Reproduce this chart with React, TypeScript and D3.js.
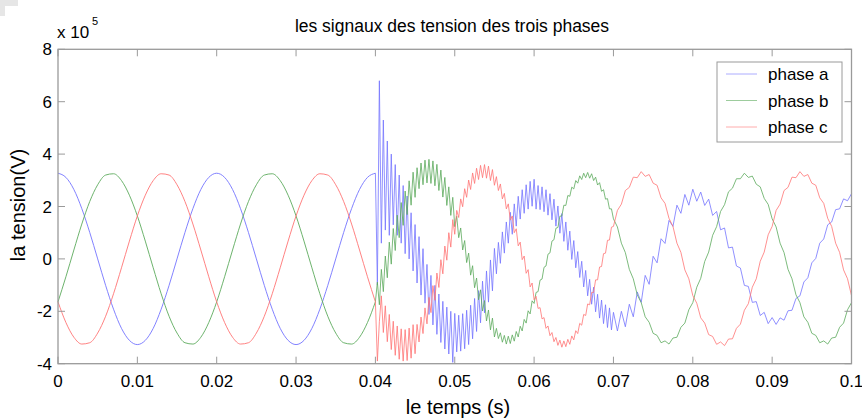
import React, { useEffect, useRef } from "react";
import * as d3 from "d3";

// sample times (s): 1 ms before the fault, 0.25 ms during it, 0.5 ms after 0.07 s
const preTimes = d3.range(40).map((k) => k * 0.001);
const faultTimes = d3.range(120).map((i) => 0.04 + i * 0.00025);
const lateTimes = d3.range(61).map((j) => 0.07 + j * 0.0005);

// voltages in units of 1e5 V
const phaseAPre = [3.27, 3.11, 2.65, 1.92, 1.01, 0, -1.01, -1.92, -2.65, -3.11, -3.27, -3.11, -2.65, -1.92, -1.01, 0, 1.01, 1.92, 2.65, 3.11,
  3.27, 3.11, 2.65, 1.92, 1.01, 0, -1.01, -1.92, -2.65, -3.11, -3.27, -3.11, -2.65, -1.92, -1.01, 0, 1.01, 1.92, 2.65, 3.11];
const phaseAFault = [3.27, -1.0, 6.8, 0.6, 5.3, 1.1, 4.5, 0.9, 4.0, 1.3,
  3.6, 0.9, 3.2, 0.6, 2.8, 0.2, 2.4, 0.0, 1.76, -0.46,
  1.31, -0.92, 0.85, -1.38, 0.39, -1.69, -0.21, -2.12, -0.63, -2.52,
  -1.01, -2.88, -1.34, -3.19, -1.62, -3.44, -1.84, -3.63, -2.0, -3.95,
  -2.08, -3.55, -2.15, -3.52, -2.09, -3.43, -1.96, -3.27, -1.77, -3.05,
  -1.51, -2.77, -1.21, -2.44, -0.85, -2.06, -0.46, -1.65, -0.04, -1.22,
  0.4, -0.57, 0.63, -0.17, 1.03, 0.22, 1.41, 0.6, 1.78, 0.94,
  2.1, 1.25, 2.39, 1.52, 2.64, 1.74, 2.83, 1.9, 2.96, 2.01,
  3.04, 1.9, 2.8, 1.88, 2.75, 1.8, 2.64, 1.67, 2.49, 1.49,
  2.28, 1.25, 2.02, 0.98, 1.73, 0.67, 1.41, 0.33, 1.06, -0.02,
  0.7, -0.34, 0.28, -0.71, -0.09, -1.07, -0.44, -1.41, -0.78, -1.73,
  -1.08, -2.02, -1.35, -2.26, -1.57, -2.47, -1.75, -2.62, -1.87, -2.71];
const phaseALate = [-2.04, -2.75, -2.0, -2.59, -1.73, -2.21, -1.26, -1.66, -0.63, -0.97,
  0.1, -0.15, 0.77, 0.59, 1.47, 1.24, 2.05, 1.74, 2.46, 2.05,
  2.66, 2.2, 2.55, 2.04, 2.28, 1.66, 1.81, 1.11, 1.18, 0.42,
  0.45, -0.27, -0.35, -1.01, -1.05, -1.66, -1.63, -2.16, -2.04, -2.47,
  -2.24, -2.5, -2.25, -2.34, -1.98, -1.96, -1.51, -1.41, -0.88, -0.72,
  -0.15, 0.02, 0.6, 0.76, 1.3, 1.41, 1.88, 1.91, 2.29, 2.22,
  2.49];

const phaseBPre = [-1.64, -0.68, 0.34, 1.33, 2.19, 2.83, 3.2, 3.25, 2.99, 2.43, 1.64, 0.68, -0.34, -1.33, -2.19, -2.83, -3.2, -3.25, -2.99, -2.43,
  -1.64, -0.68, 0.34, 1.33, 2.19, 2.83, 3.2, 3.25, 2.99, 2.43, 1.64, 0.68, -0.34, -1.33, -2.19, -2.83, -3.2, -3.25, -2.99, -2.43];
const phaseBFault = [-1.64, -0.89, -1.75, -0.4, -1.25, 0.11, -0.72, 0.64, -0.2, 1.16,
  0.32, 1.67, 0.81, 2.15, 1.28, 2.59, 1.69, 2.98, 2.05, 3.31,
  2.35, 3.48, 2.68, 3.66, 2.83, 3.77, 2.9, 3.8, 2.88, 3.74,
  2.79, 3.61, 2.61, 3.39, 2.36, 3.11, 2.04, 2.75, 1.66, 2.35,
  1.23, 1.63, 0.81, 1.18, 0.34, 0.7, -0.14, 0.22, -0.62, -0.26,
  -1.1, -0.73, -1.56, -1.18, -1.99, -1.59, -2.37, -1.95, -2.71, -2.26,
  -2.98, -2.65, -3.04, -2.82, -3.18, -2.92, -3.25, -2.95, -3.23, -2.9,
  -3.14, -2.77, -2.98, -2.57, -2.75, -2.31, -2.45, -1.98, -2.1, -1.6,
  -1.7, -1.28, -1.25, -0.81, -0.77, -0.32, -0.27, 0.18, 0.23, 0.68,
  0.73, 1.17, 1.2, 1.63, 1.64, 2.05, 2.04, 2.42, 2.39, 2.74,
  2.67, 2.99, 2.89, 3.17, 3.03, 3.27, 3.1, 3.3, 3.08, 3.25,
  2.99, 3.12, 2.82, 2.91, 2.58, 2.64, 2.28, 2.3, 1.91, 1.91];
const phaseBLate = [1.53, 1.22, 0.6, 0.24, -0.4, -0.76, -1.37, -1.67, -2.21, -2.42,
  -2.84, -2.92, -3.2, -3.13, -3.25, -3.02, -2.99, -2.61, -2.45, -1.94,
  -1.67, -1.08, -0.74, -0.1, 0.26, 0.9, 1.23, 1.81, 2.07, 2.56,
  2.7, 3.06, 3.06, 3.27, 3.11, 3.16, 2.85, 2.75, 2.31, 2.08,
  1.53, 1.22, 0.6, 0.24, -0.4, -0.76, -1.37, -1.67, -2.21, -2.42,
  -2.84, -2.92, -3.2, -3.13, -3.25, -3.02, -2.99, -2.61, -2.45, -1.94,
  -1.67];

const phaseCPre = [-1.64, -2.43, -2.99, -3.25, -3.2, -2.83, -2.19, -1.33, -0.34, 0.68, 1.64, 2.43, 2.99, 3.25, 3.2, 2.83, 2.19, 1.33, 0.34, -0.68,
  -1.64, -2.43, -2.99, -3.25, -3.2, -2.83, -2.19, -1.33, -0.34, 0.68, 1.64, 2.43, 2.99, 3.25, 3.2, 2.83, 2.19, 1.33, 0.34, -0.68];
const phaseCFault = [-1.64, -3.9, -2.4, -1.41, -2.81, -1.79, -3.16, -2.12, -3.46, -2.38,
  -3.68, -2.56, -3.83, -2.67, -3.9, -2.7, -3.88, -2.64, -3.79, -2.51,
  -3.62, -2.5, -3.17, -2.22, -2.85, -1.87, -2.48, -1.47, -2.05, -1.02,
  -1.58, -0.54, -1.09, -0.03, -0.57, 0.49, -0.05, 1.0, 0.45, 1.5,
  0.94, 1.85, 1.58, 2.29, 1.99, 2.68, 2.35, 3.01, 2.65, 3.28,
  2.88, 3.46, 3.03, 3.57, 3.1, 3.6, 3.08, 3.54, 2.99, 3.41,
  2.81, 3.14, 2.61, 2.86, 2.29, 2.5, 1.91, 2.1, 1.48, 1.64,
  1.0, 1.15, 0.5, 0.64, -0.03, 0.11, -0.55, -0.41, -1.07, -0.92,
  -1.56, -1.43, -1.89, -1.86, -2.29, -2.24, -2.65, -2.56, -2.93, -2.81,
  -3.16, -3.0, -3.3, -3.1, -3.37, -3.13, -3.35, -3.07, -3.26, -2.94,
  -3.09, -2.74, -2.85, -2.46, -2.53, -2.12, -2.16, -1.72, -1.75, -1.28,
  -1.28, -0.8, -0.8, -0.31, -0.29, 0.2, 0.22, 0.71, 0.72, 1.21];
const phaseCLate = [1.24, 1.85, 2.09, 2.61, 2.73, 3.12, 3.1, 3.33, 3.15, 3.22,
  2.89, 2.81, 2.33, 2.12, 1.55, 1.24, 0.6, 0.25, -0.42, -0.76,
  -1.4, -1.69, -2.25, -2.45, -2.89, -2.96, -3.26, -3.17, -3.31, -3.06,
  -3.05, -2.65, -2.49, -1.96, -1.71, -1.08, -0.76, -0.09, 0.26, 0.92,
  1.24, 1.85, 2.09, 2.61, 2.73, 3.12, 3.1, 3.33, 3.15, 3.22,
  2.89, 2.81, 2.33, 2.12, 1.55, 1.24, 0.6, 0.25, -0.42, -0.76,
  -1.4];

const seriesNames = ["phase a", "phase b", "phase c"];
const seriesColors = ["#7474ff", "#5caa5c", "#ff7474"];
const xTicks = [0, 0.01, 0.02, 0.03, 0.04, 0.05, 0.06, 0.07, 0.08, 0.09, 0.1];
const xTickLabels = ["0", "0.01", "0.02", "0.03", "0.04", "0.05", "0.06", "0.07", "0.08", "0.09", "0.1"];
const yTicks = [-4, -2, 0, 2, 4, 6, 8];

const FONT = "'Liberation Sans', Arial, sans-serif";

export default function App() {
  const ref = useRef<SVGSVGElement>(null);

  useEffect(() => {
    const svg = d3.select(ref.current);
    svg.selectAll("*").remove();

    const left = 58, right = 851.5, top = 49.3, bottom = 363.7;
    const x = d3.scaleLinear().domain([0, 0.1]).range([left, right]);
    const y = d3.scaleLinear().domain([-4, 8]).range([bottom, top]);

    // little window corner top-left
    svg.append("rect").attr("x", 0).attr("y", 0).attr("width", 18).attr("height", 16).attr("fill", "#e6e6e6");
    svg.append("rect").attr("x", 5).attr("y", 6).attr("width", 20).attr("height", 14).attr("fill", "#fff");

    const series = [
      { pre: phaseAPre, fault: phaseAFault, late: phaseALate },
      { pre: phaseBPre, fault: phaseBFault, late: phaseBLate },
      { pre: phaseCPre, fault: phaseCFault, late: phaseCLate },
    ];

    const smooth = d3.line<[number, number]>()
      .x((d) => x(d[0]))
      .y((d) => y(d[1]))
      .curve(d3.curveMonotoneX);
    const jagged = d3.line<[number, number]>()
      .x((d) => x(d[0]))
      .y((d) => y(d[1]));

    series.forEach((s, k) => {
      // healthy part, up to the fault instant
      const prePts: [number, number][] = [
        ...preTimes.map((t, i) => [t, s.pre[i]] as [number, number]),
        [faultTimes[0], s.fault[0]],
      ];
      // fault transient and after
      const postPts: [number, number][] = [
        ...faultTimes.map((t, i) => [t, s.fault[i]] as [number, number]),
        ...lateTimes.map((t, i) => [t, s.late[i]] as [number, number]),
      ];
      svg.append("path")
        .attr("d", smooth(prePts))
        .attr("fill", "none")
        .attr("stroke", seriesColors[k])
        .attr("stroke-width", 0.9);
      svg.append("path")
        .attr("d", jagged(postPts))
        .attr("fill", "none")
        .attr("stroke", seriesColors[k])
        .attr("stroke-width", 0.8);
    });

    // frame and ticks
    const axisColor = "#9a9a9a";
    svg.append("rect")
      .attr("x", left).attr("y", top)
      .attr("width", right - left).attr("height", bottom - top)
      .attr("fill", "none").attr("stroke", axisColor).attr("stroke-width", 1.3);

    xTicks.forEach((t, i) => {
      svg.append("line").attr("x1", x(t)).attr("x2", x(t)).attr("y1", bottom).attr("y2", bottom - 7)
        .attr("stroke", axisColor);
      svg.append("line").attr("x1", x(t)).attr("x2", x(t)).attr("y1", top).attr("y2", top + 7)
        .attr("stroke", axisColor);
      svg.append("text").attr("x", x(t)).attr("y", 386.5)
        .attr("text-anchor", "middle").attr("font-family", FONT).attr("font-size", 17)
        .text(xTickLabels[i]);
    });

    yTicks.forEach((v) => {
      svg.append("line").attr("x1", left).attr("x2", left + 7).attr("y1", y(v)).attr("y2", y(v))
        .attr("stroke", axisColor);
      svg.append("line").attr("x1", right).attr("x2", right - 7).attr("y1", y(v)).attr("y2", y(v))
        .attr("stroke", axisColor);
      svg.append("text").attr("x", 52).attr("y", y(v) + 6)
        .attr("text-anchor", "end").attr("font-family", FONT).attr("font-size", 17)
        .text(v);
    });

    // exponent
    svg.append("text").attr("x", 57).attr("y", 38)
      .attr("font-family", FONT).attr("font-size", 17).text("x 10");
    svg.append("text").attr("x", 92).attr("y", 25)
      .attr("font-family", FONT).attr("font-size", 11).text("5");

    // titles
    svg.append("text").attr("x", 452).attr("y", 32)
      .attr("text-anchor", "middle").attr("font-family", FONT).attr("font-size", 17.5)
      .text("les signaux des tension des trois phases");
    svg.append("text").attr("x", 458).attr("y", 414)
      .attr("text-anchor", "middle").attr("font-family", FONT).attr("font-size", 20)
      .text("le temps (s)");
    svg.append("text")
      .attr("transform", "translate(25, 205) rotate(-90)")
      .attr("text-anchor", "middle").attr("font-family", FONT).attr("font-size", 20)
      .text("la tension(V)");

    // legend
    const lg = svg.append("g");
    lg.append("rect").attr("x", 717).attr("y", 62).attr("width", 125).attr("height", 80)
      .attr("fill", "#fff").attr("stroke", axisColor);
    seriesNames.forEach((name, k) => {
      const cy = 74 + k * 26.5;
      lg.append("line").attr("x1", 726).attr("x2", 757).attr("y1", cy).attr("y2", cy)
        .attr("stroke", seriesColors[k]).attr("stroke-opacity", 0.6);
      lg.append("text").attr("x", 768).attr("y", cy + 6)
        .attr("font-family", FONT).attr("font-size", 17).text(name);
    });
  }, []);

  return (
    <svg
      ref={ref}
      width={862}
      height={418}
      style={{ position: "absolute", left: 0, top: 0, background: "#fff" }}
    />
  );
}
